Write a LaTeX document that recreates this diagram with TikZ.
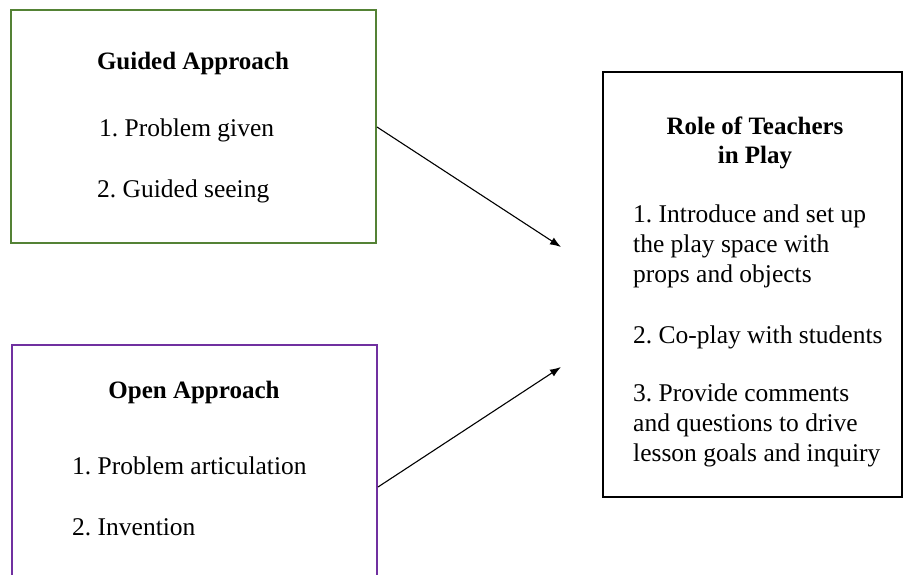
\documentclass[tikz,border=0pt]{standalone}
\usepackage{fontspec}
\setmainfont{Liberation Serif}
\usepackage{xcolor}
\usetikzlibrary{calc}
\usetikzlibrary{positioning,arrows.meta}
\definecolor{guidegreen}{RGB}{84,130,53}
\definecolor{openpurple}{RGB}{112,48,160}
\frenchspacing
\tikzset{
	txt/.style={anchor=base west,inner sep=0pt,font=\fontsize{25.5}{30}\selectfont},
	head/.style={anchor=base,inner sep=0pt,align=center,font=\fontsize{25}{29}\selectfont\bfseries},
	box/.style={draw,line width=2pt}
}
\begin{document}
\begin{tikzpicture}[x=1pt,y=-1pt]
		\useasboundingbox (0,0) rectangle (904,575);
		\clip (0,0) rectangle (904,575);
		% boxes
		\draw[box,guidegreen] (11,10) rectangle (376,243);
		\draw[box,openpurple] (12,345) rectangle (377,600);
		\draw[box,black] (603,72) rectangle (902,497);
		\coordinate (guided east) at (377,127);
		\coordinate (open east) at (378,487);
		\coordinate (role top) at (561,247);
		\coordinate (role bottom) at (561,367);
		% guided
		\node[head] (guided) at (193,70) {Guided Approach};
		\node[txt] (g1) at (99,136) {1. Problem given};
		\node[txt] (g2) at (97,197) {2. Guided seeing};
		% open
		\node[head] (open) at (194,398) {Open Approach};
		\node[txt] (o1) at (72,474) {1. Problem articulation};
		\node[txt] (o2) at (72,535) {2. Invention};
		% role of teachers (base = last line)
		\node[head] (role) at (755,163) {Role of Teachers\\in Play};
		\node[txt,align=left] (r1) at (633,282) {1. Introduce and set up\\the play space with\\props and objects};
		\node[txt] (r2) at (633,343) {2. Co-play with students};
		\node[txt,align=left] (r3) at (633,461) {3. Provide comments\\and questions to drive\\lesson goals and inquiry};
		% arrows
		\draw[-{Latex[length=11pt,width=8pt]},line width=1.1pt] (guided east) -- (role top);
		\draw[-{Latex[length=11pt,width=8pt]},line width=1.1pt] (open east) -- (role bottom);
	\end{tikzpicture}
\end{document}
